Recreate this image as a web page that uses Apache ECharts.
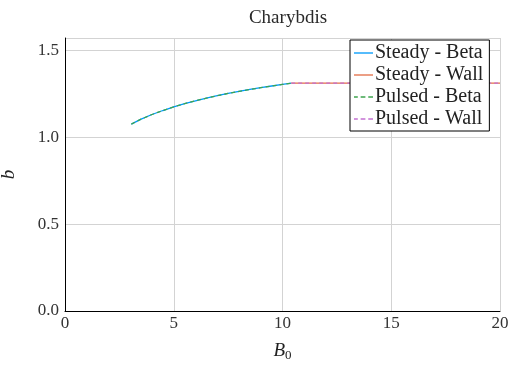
<!DOCTYPE html>
<html>
<head>
<meta charset="utf-8">
<script src="https://cdn.jsdelivr.net/npm/echarts@6/dist/echarts.min.js"></script>
<style>
  html, body { margin: 0; padding: 0; background: #fff; }
  #main { width: 510px; height: 366px; }
</style>
</head>
<body>
<div id="main"></div>
<script>
// values
var steadyBetaX = [3.05, 3.5, 4, 4.5, 5, 5.5, 6, 6.5, 7, 7.5, 8, 8.5, 9, 9.5, 10, 10.4];
var steadyBetaB = [1.075, 1.103, 1.130, 1.153, 1.174, 1.192, 1.209, 1.224, 1.238, 1.251, 1.263, 1.274, 1.284, 1.294, 1.303, 1.310];
var wallX = [10.4, 12, 14, 16, 18, 20];
var wallB = [1.310, 1.310, 1.310, 1.310, 1.310, 1.310];
var xTicks = [0, 5, 10, 15, 20];
var yTicks = [0, 0.5, 1.0, 1.5];

function pairs(xs, ys) {
  return xs.map(function (x, i) { return [x, ys[i]]; });
}

var font = '"Liberation Serif", "DejaVu Serif", serif';
var solidIcon = 'path://M0,0h20v1.4h-20z';
var dashIcon = 'path://M0,0h4v1.4h-4z M7,0h5v1.4h-5z M15,0h5v1.4h-5z';

var myChart = echarts.init(document.getElementById('main'));

function line(name, data, color, dashed) {
  return {
    name: name,
    type: 'line',
    data: data,
    symbol: 'none',
    lineStyle: { color: color, width: 1.3, type: dashed ? [4, 3] : 'solid' },
    itemStyle: { color: color }
  };
}

myChart.setOption({
  animation: false,
  title: {
    text: 'Charybdis',
    left: 283,
    textAlign: 'center',
    top: 4,
    textStyle: { fontFamily: font, fontWeight: 'normal', fontSize: 19, color: '#2a2a2a' }
  },
  grid: { left: 65, right: 10, top: 38, bottom: 55, outerBoundsMode: 'none', containLabel: false },
  legend: {
    left: 350,
    top: 40,
    orient: 'vertical',
    backgroundColor: '#fff',
    borderColor: '#000',
    borderWidth: 1,
    borderRadius: 0,
    padding: [2, 6, 1, 4],
    itemGap: 0,
    itemWidth: 19,
    itemHeight: 1.4,
    textStyle: { fontFamily: font, fontSize: 20, color: '#222', padding: [0, 0, 0, -3], lineHeight: 22 },
    data: [
      { name: 'Steady - Beta', icon: solidIcon },
      { name: 'Steady - Wall', icon: solidIcon },
      { name: 'Pulsed - Beta', icon: dashIcon },
      { name: 'Pulsed - Wall', icon: dashIcon }
    ]
  },
  xAxis: {
    type: 'value',
    min: 0, max: 20, interval: 5,
    name: '{i|B}{s|0}',
    nameLocation: 'middle',
    nameGap: 29,
    nameTextStyle: {
      rich: {
        i: { fontFamily: font, fontStyle: 'italic', fontSize: 19, color: '#222' },
        s: { fontFamily: font, fontSize: 13, color: '#222', verticalAlign: 'bottom', padding: [9, 0, 0, 0] }
      }
    },
    axisLine: { lineStyle: { color: '#000', width: 1 } },
    axisTick: { show: false },
    axisLabel: { fontFamily: font, fontSize: 17, color: '#333', margin: 4,
      formatter: function (v) { return xTicks.indexOf(v) >= 0 ? String(v) : ''; } },
    splitLine: { show: true, lineStyle: { color: '#d3d3d3', width: 1 } }
  },
  yAxis: {
    type: 'value',
    min: 0, max: 1.57, interval: 0.5,
    name: 'b',
    nameLocation: 'middle',
    nameGap: 47,
    nameTextStyle: { fontFamily: font, fontStyle: 'italic', fontSize: 19, color: '#222' },
    axisLine: { show: true, lineStyle: { color: '#000', width: 1 } },
    axisTick: { show: false },
    axisLabel: { fontFamily: font, fontSize: 17, color: '#333', margin: 6,
      formatter: function (v) {
        for (var i = 0; i < yTicks.length; i++) {
          if (Math.abs(v - yTicks[i]) < 1e-6) return yTicks[i].toFixed(1);
        }
        return '';
      } },
    splitLine: { show: true, lineStyle: { color: '#d3d3d3', width: 1 } }
  },
  series: [
    line('Steady - Beta', pairs(steadyBetaX, steadyBetaB), '#009AFA', false),
    line('Steady - Wall', pairs(wallX, wallB), '#E36F47', false),
    line('Pulsed - Beta', pairs(steadyBetaX, steadyBetaB), '#3EA44E', true),
    line('Pulsed - Wall', pairs(wallX, wallB), '#C371D2', true)
  ]
});
</script>
</body>
</html>
